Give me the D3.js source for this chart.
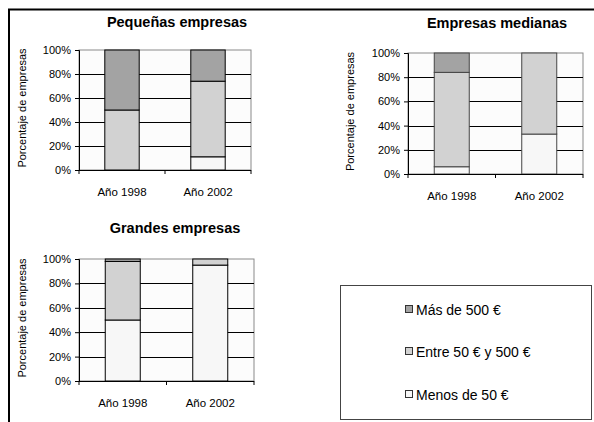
<!DOCTYPE html>
<html lang="es">
<head>
<meta charset="UTF-8">
<title>Empresas por tamaño</title>
<script src="https://d3js.org/d3.v7.min.js"></script>
<style>
  body { margin: 0; background: #fff; }
  text { font-family: "Liberation Sans", Arial, sans-serif; }
</style>
</head>
<body>
<script>
    // categorias y series
    const categories = ["Año 1998", "Año 2002"];
    const seriesKeys = ["menos", "entre", "mas"];
    const seriesNames = ["Menos de 50 €", "Entre 50 € y 500 €", "Más de 500 €"];
    const seriesColors = ["#f7f7f7", "#d2d2d2", "#a3a3a3"];
    const yTicks = [0, 20, 40, 60, 80, 100];

    // valores (%)
    const pequenasMenos = [0, 11];
    const pequenasEntre = [50, 63];
    const pequenasMas = [50, 26];

    const medianasMenos = [6, 33];
    const medianasEntre = [78, 67];
    const medianasMas = [16, 0];

    const grandesMenos = [50, 95];
    const grandesEntre = [48, 5];
    const grandesMas = [2, 0];

    const width = 594, height = 422;

    const svg = d3.select("body").append("svg")
        .attr("width", width)
        .attr("height", height);

    // marco exterior (solo arriba e izquierda)
    svg.append("line").attr("x1", 8).attr("x2", width).attr("y1", 9.5).attr("y2", 9.5)
        .style("stroke", "#000").style("stroke-width", 2);
    svg.append("line").attr("x1", 9).attr("x2", 9).attr("y1", 9).attr("y2", height)
        .style("stroke", "#000").style("stroke-width", 2);

    function toRows(menos, entre, mas) {
        return categories.map((c, i) => ({ cat: c, menos: menos[i], entre: entre[i], mas: mas[i] }));
    }

    function drawPanel(p) {
        const g = svg.append("g");
        const x = d3.scaleBand().domain(categories).range([p.x0, p.x1]).paddingInner(0).paddingOuter(0);
        const y = d3.scaleLinear().domain([0, 100]).range([p.y0, p.y1]);

        // fondo del area de trazado
        g.append("rect")
            .attr("x", p.x0).attr("y", p.y1)
            .attr("width", p.x1 - p.x0).attr("height", p.y0 - p.y1)
            .style("fill", "#fcfcfc").style("stroke", "#8a8a8a").style("stroke-width", 1);

        // lineas de cuadricula
        g.selectAll(".grid").data(yTicks.filter(t => t > 0 && t < 100)).enter()
            .append("line")
            .attr("x1", p.x0).attr("x2", p.x1)
            .attr("y1", d => Math.round(y(d)) + 0.5).attr("y2", d => Math.round(y(d)) + 0.5)
            .style("stroke", "#000").style("stroke-width", 1);

        // barras apiladas
        const stacked = d3.stack().keys(seriesKeys)(p.rows);
        const bw = x.bandwidth() * 0.4;
        stacked.forEach((layer, li) => {
            g.selectAll(".bar" + li).data(layer).enter()
                .append("rect")
                .attr("x", d => x(d.data.cat) + (x.bandwidth() - bw) / 2)
                .attr("y", d => y(d[1]))
                .attr("width", bw)
                .attr("height", d => y(d[0]) - y(d[1]))
                .style("fill", seriesColors[li])
                .style("stroke", d => (d[1] - d[0]) > 0 ? p.barStroke : "none")
                .style("stroke-width", 1);
        });

        // eje y
        const yAxis = d3.axisLeft(y).tickValues(yTicks).tickFormat(d => d + "%")
            .tickSize(4).tickPadding(4);
        const ya = g.append("g").attr("transform", `translate(${p.x0},0)`).call(yAxis);
        ya.select(".domain").style("stroke", "#000");
        ya.selectAll("text").style("font-size", "11px").style("fill", "#000");

        // eje x con marcas entre categorias
        const xa = g.append("g").attr("transform", `translate(0,${p.y0})`);
        xa.append("line").attr("x1", p.x0).attr("x2", p.x1).attr("y1", 0.5).attr("y2", 0.5)
            .style("stroke", "#000");
        const bounds = [p.x0].concat(categories.map(c => x(c) + x.bandwidth()));
        xa.selectAll(".xt").data(bounds).enter().append("line")
            .attr("x1", d => d).attr("x2", d => d).attr("y1", 0).attr("y2", 4)
            .style("stroke", "#000");
        xa.selectAll(".xl").data(categories).enter().append("text")
            .attr("x", d => x(d) + x.bandwidth() / 2)
            .attr("y", 26)
            .attr("text-anchor", "middle")
            .style("font-size", "11.5px")
            .text(d => d);

        // titulo
        g.append("text")
            .attr("x", p.titleX).attr("y", p.titleY)
            .attr("text-anchor", "middle")
            .style("font-size", "14.5px").style("font-weight", "bold")
            .text(p.title);

        // etiqueta eje y
        g.append("text")
            .attr("transform", `translate(${p.labelX},${(p.y0 + p.y1) / 2 - 2}) rotate(-90)`)
            .attr("text-anchor", "middle")
            .style("font-size", "11px")
            .text("Porcentaje de empresas");
    }

    drawPanel({
        title: "Pequeñas empresas", titleX: 177, titleY: 27,
        x0: 79, x1: 251, y0: 170, y1: 50, labelX: 26, barStroke: "#000",
        rows: toRows(pequenasMenos, pequenasEntre, pequenasMas)
    });
    drawPanel({
        title: "Empresas medianas", titleX: 497, titleY: 28,
        x0: 408, x1: 583, y0: 174, y1: 53, labelX: 354, barStroke: "#444",
        rows: toRows(medianasMenos, medianasEntre, medianasMas)
    });
    drawPanel({
        title: "Grandes empresas", titleX: 175, titleY: 233,
        x0: 79, x1: 254, y0: 381, y1: 259, labelX: 26, barStroke: "#000",
        rows: toRows(grandesMenos, grandesEntre, grandesMas)
    });

    // leyenda
    const lg = svg.append("g");
    lg.append("rect").attr("x", 340.5).attr("y", 285.5).attr("width", 251).attr("height", 134)
        .style("fill", "#fff").style("stroke", "#444").style("stroke-width", 1);
    const legendOrder = [2, 1, 0];
    const legendY = [310, 352, 395];
    lg.selectAll(".li").data(legendOrder).enter().append("g")
        .each(function (si, i) {
            const it = d3.select(this);
            it.append("rect")
                .attr("x", 405.5).attr("y", legendY[i] - 4.5)
                .attr("width", 7).attr("height", 7)
                .style("fill", seriesColors[si]).style("stroke", "#333");
            it.append("text")
                .attr("x", 416).attr("y", legendY[i] + 5)
                .style("font-size", "14px")
                .text(seriesNames[si]);
        });
</script>
</body>
</html>
